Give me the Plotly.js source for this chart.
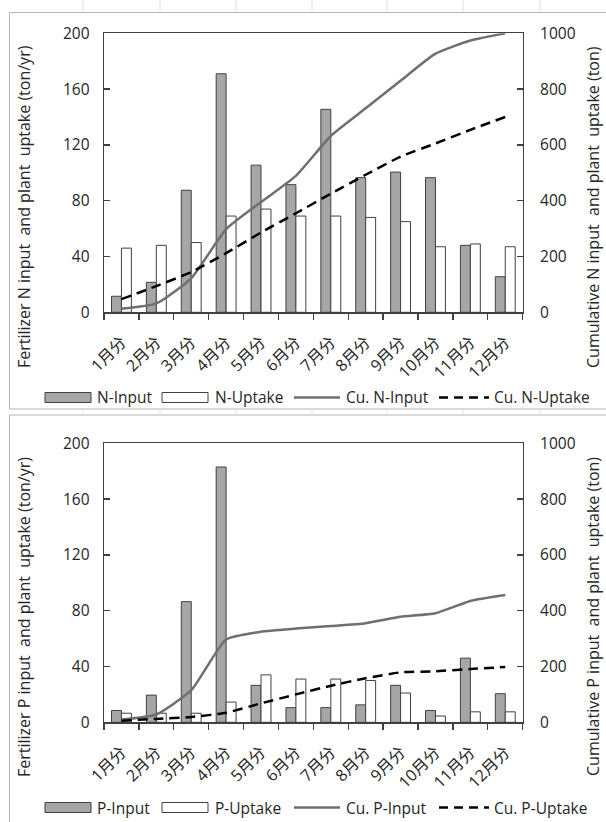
<!DOCTYPE html>
<html>
<head>
<meta charset="utf-8">
<script src="https://cdn.plot.ly/plotly-3.0.1.min.js"></script>
<style>html,body{margin:0;padding:0;background:#fff;}#chart{width:606px;height:822px;}</style>
</head>
<body>
<div id="chart"></div>
<script>
// ---- data ----
const months = ['1月分','2月分','3月分','4月分','5月分','6月分','7月分','8月分','9月分','10月分','11月分','12月分'];
const nInput   = [11.5, 21.5, 87.5, 171, 105.5, 91.5, 145.5, 96.5, 100.5, 96.5, 48, 25.5];
const nUptake  = [46, 48, 50, 69, 74, 69, 69, 68, 65, 47, 49, 47];
const cuNInput = [13, 32, 122, 298, 395, 489, 632, 731, 830, 927, 974, 1000];
const cuNUptake= [47, 94, 144, 212, 286, 355, 425, 493, 558, 605, 654, 700];
const pInput   = [8.5, 19.5, 86.5, 183, 26.5, 10.5, 10.5, 12.5, 26.5, 8.5, 46, 20.5];
const pUptake  = [6.5, 6.5, 6.5, 14.5, 34, 31, 31, 30, 21, 4.5, 7.5, 7.5];
const cuPInput = [10, 28, 115, 297, 325, 336, 345, 355, 378, 391, 435, 456];
const cuPUptake= [6, 12, 19, 34, 68, 100, 131, 158, 179, 183, 191, 198];
const leftTicks = [0, 40, 80, 120, 160, 200];
const rightTicks = [0, 200, 400, 600, 800, 1000];

const W = 606, H = 822;
const px = x => x / W;
const py = y => 1 - y / H;
const FONT = '"Open Sans", "Noto Sans CJK JP", sans-serif';
const TXT = '#262626';
const GRAY = '#a6a6a6';
const EDGE = '#404040';
const LINEG = '#6f6f6f';

function barTrace(y, name, color, xa, ya) {
  return {type:'bar', x: months, y: y, name: name, xaxis: xa, yaxis: ya,
    marker:{color: color, line:{color: EDGE, width: 1}}, showlegend:false, hoverinfo:'skip'};
}
function lineTrace(y, name, color, dash, xa, ya) {
  return {type:'scatter', mode:'lines', x: months, y: y, name: name, xaxis: xa, yaxis: ya,
    line:{color: color, width: 2.5, dash: dash, shape:'spline', smoothing:0.5}, showlegend:false, hoverinfo:'skip'};
}

const data = [
  barTrace(nInput, 'N-Input', GRAY, 'x', 'y'),
  barTrace(nUptake, 'N-Uptake', '#ffffff', 'x', 'y'),
  lineTrace(cuNInput, 'Cu. N-Input', LINEG, 'solid', 'x', 'y2'),
  lineTrace(cuNUptake, 'Cu. N-Uptake', '#000000', '10px,6px', 'x', 'y2'),
  barTrace(pInput, 'P-Input', GRAY, 'x2', 'y3'),
  barTrace(pUptake, 'P-Uptake', '#ffffff', 'x2', 'y3'),
  lineTrace(cuPInput, 'Cu. P-Input', LINEG, 'solid', 'x2', 'y4'),
  lineTrace(cuPUptake, 'Cu. P-Uptake', '#000000', '10px,6px', 'x2', 'y4')
];

const xdom = [px(104), px(522.7)];
const topDom = [py(312.3), py(33.3)];
const botDom = [py(722.3), py(443.3)];
const tickFont = {family: FONT, size: 15.5, color: TXT};
const xTickFont = {family: FONT, size: 16, color: TXT};

function xAxis(anchor, dom) {
  return {domain: xdom, anchor: anchor, type:'category', showline:true, linecolor: EDGE, linewidth:1.3,
    mirror:true, ticks:'outside', ticklen:6, tickwidth:1.3, tickcolor: EDGE, tickson:'boundaries',
    tickangle:-45, tickfont: xTickFont, ticklabelstandoff: 13, showgrid:false, zeroline:false, automargin:false, fixedrange:true};
}
function yLeft(anchor, dom) {
  return {domain: dom, anchor: anchor, range:[0,200], tickvals: leftTicks, showline:true, linecolor: EDGE,
    linewidth:1.3, ticks:'inside', ticklen:6, tickwidth:1.3, tickcolor: EDGE, tickfont: tickFont,
    showgrid:false, zeroline:false, automargin:false, ticklabelstandoff: 10, fixedrange:true};
}
function yRight(anchor, over, dom) {
  return {domain: dom, anchor: anchor, overlaying: over, side:'right', range:[0,1000], tickvals: rightTicks,
    showline:true, linecolor: EDGE, linewidth:1.3, ticks:'inside', ticklen:6, tickwidth:1.3, tickcolor: EDGE,
    tickfont: tickFont, showgrid:false, zeroline:false, automargin:false, ticklabelstandoff: 13, fixedrange:true};
}

const shapes = [];
const annotations = [];
// spreadsheet frames
[[12.5, 409], [415, 830]].forEach(([t, b]) => {
  shapes.push({type:'rect', xref:'paper', yref:'paper', x0:px(9.5), x1:px(620), y0:py(t), y1:py(b),
    line:{color:'#b4b4b4', width:1}, fillcolor:'rgba(0,0,0,0)', layer:'below'});
});
[83, 160, 236, 312, 387, 463, 540].forEach(x => {
  shapes.push({type:'line', xref:'paper', yref:'paper', x0:px(x), x1:px(x), y0:py(0), y1:py(12),
    line:{color:'#e0e0e0', width:1}, layer:'below'});
  shapes.push({type:'line', xref:'paper', yref:'paper', x0:px(x), x1:px(x), y0:py(409.5), y1:py(414.5),
    line:{color:'#e0e0e0', width:1}, layer:'below'});
});

function legend(off, labels) {
  const yc = 397.5 + off;
  shapes.push({type:'rect', xref:'paper', yref:'paper', x0:px(45), x1:px(91), y0:py(yc-5), y1:py(yc+5),
    fillcolor: GRAY, line:{color: EDGE, width:1}});
  shapes.push({type:'rect', xref:'paper', yref:'paper', x0:px(162), x1:px(208), y0:py(yc-5), y1:py(yc+5),
    fillcolor:'#ffffff', line:{color: EDGE, width:1}});
  shapes.push({type:'line', xref:'paper', yref:'paper', x0:px(294), x1:px(340), y0:py(yc), y1:py(yc),
    line:{color: LINEG, width:2.5}});
  shapes.push({type:'line', xref:'paper', yref:'paper', x0:px(439), x1:px(489), y0:py(yc), y1:py(yc),
    line:{color:'#000000', width:2.5, dash:'9px,6px'}});
  const xs = [95, 213, 344, 492];
  labels.forEach((t, i) => annotations.push({xref:'paper', yref:'paper', x:px(xs[i]), y:py(yc), text:t,
    showarrow:false, xanchor:'left', yanchor:'middle', font:{family: FONT, size:15.5, color: TXT}}));
}
legend(0, ['N-Input','N-Uptake','Cu. N-Input','Cu. N-Uptake']);
legend(410, ['P-Input','P-Uptake','Cu. P-Input','Cu. P-Uptake']);

function titles(off, el) {
  annotations.push({xref:'paper', yref:'paper', x:px(24), y:py(207 + off), textangle:-90, showarrow:false,
    xanchor:'center', yanchor:'middle',
    text:'Fertilizer ' + el + ' input\u00a0 and plant\u00a0 uptake (ton/yr)', font:{family: FONT, size:16, color: TXT}});
  annotations.push({xref:'paper', yref:'paper', x:px(593), y:py(207 + off), textangle:-90, showarrow:false,
    xanchor:'center', yanchor:'middle',
    text:'Cumulative ' + el + ' input\u00a0 and plant\u00a0 uptake (ton)', font:{family: FONT, size:16, color: TXT}});
}
titles(0, 'N');
titles(410, 'P');

const layout = {
  width: W, height: H, margin:{l:0, r:0, t:0, b:0}, paper_bgcolor:'#ffffff', plot_bgcolor:'rgba(0,0,0,0)',
  showlegend:false, barmode:'group', bargap:0.43, bargroupgap:0,
  xaxis: xAxis('y', topDom),
  yaxis: yLeft('x', topDom),
  yaxis2: yRight('x', 'y', topDom),
  xaxis2: xAxis('y3', botDom),
  yaxis3: yLeft('x2', botDom),
  yaxis4: yRight('x2', 'y3', botDom),
  shapes: shapes, annotations: annotations,
  font:{family: FONT, color: TXT}
};

Plotly.newPlot('chart', data, layout, {displayModeBar:false, staticPlot:true});
</script>
</body>
</html>
